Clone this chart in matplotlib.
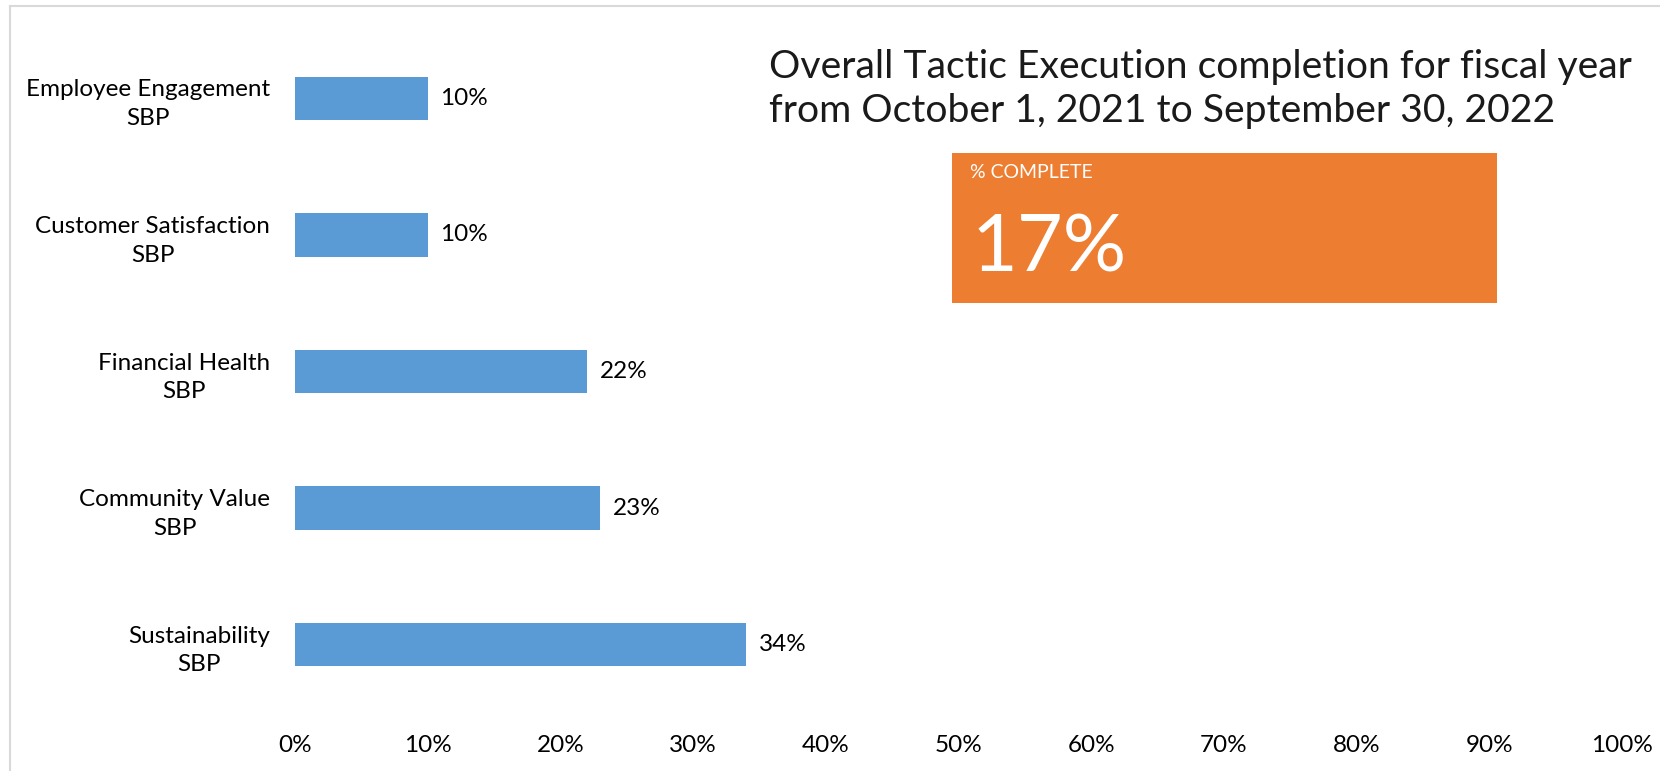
import matplotlib
matplotlib.use('Agg')
import matplotlib.pyplot as plt
from matplotlib.lines import Line2D
from matplotlib.patches import Rectangle

plt.rcParams['font.family'] = ['Lato', 'DejaVu Sans']

# Strategic business plan areas, bottom to top
categories = ['Sustainability\nSBP', 'Community Value\nSBP', 'Financial Health\nSBP',
              'Customer Satisfaction\nSBP', 'Employee Engagement\nSBP']
completion = [34, 23, 22, 10, 10]
overall_complete = 17
x_ticks = [0, 10, 20, 30, 40, 50, 60, 70, 80, 90, 100]

BLUE = '#5B9BD5'
ORANGE = '#ED7D31'

fig = plt.figure(figsize=(16.6, 7.71), dpi=100)
fig.patch.set_facecolor('white')

ax = fig.add_axes([295 / 1660, 1 - 713 / 771, 1327 / 1660, 683 / 771])
ax.barh(range(len(categories)), completion, height=0.318, color=BLUE)
ax.set_xlim(0, 100)
ax.set_ylim(-0.5, len(categories) - 0.5)
ax.set_yticks(range(len(categories)))
ax.set_yticklabels(categories, fontsize=17.5, multialignment='center', linespacing=1.45)
ax.set_xticks(x_ticks)
ax.set_xticklabels([f'{t}%' for t in x_ticks], fontsize=17.5)
ax.tick_params(axis='both', length=0)
ax.tick_params(axis='y', pad=18)
ax.tick_params(axis='x', pad=16)
for s in ax.spines.values():
    s.set_visible(False)

# value labels at the end of each bar
for i, v in enumerate(completion):
    ax.annotate(f'{v}%', (v, i), xytext=(9, 0), textcoords='offset points',
                va='center', ha='left', fontsize=17.5)

# title block on the upper right
fig.text(769 / 1660, 1 - 89 / 771,
         'Overall Tactic Execution completion for fiscal year\nfrom October 1, 2021 to September 30, 2022',
         fontsize=28.2, va='center', ha='left', linespacing=1.25, color='#1a1a1a')

# orange KPI card
card = Rectangle((952 / 1660, 1 - 303 / 771), 545 / 1660, 150 / 771,
                 transform=fig.transFigure, facecolor=ORANGE, edgecolor='none')
fig.patches.append(card)
fig.text(970 / 1660, 1 - 172 / 771, '% COMPLETE', fontsize=14, color='white',
         va='center', ha='left')
fig.text(972 / 1660, 1 - 249 / 771, f'{overall_complete}%', fontsize=57, color='white',
         va='center', ha='left')

# light frame on the top and left edges
fig.add_artist(Line2D([10 / 1660, 10 / 1660], [0, 1 - 6 / 771], transform=fig.transFigure,
                      color='#d9d9d9', linewidth=1.5))
fig.add_artist(Line2D([10 / 1660, 1], [1 - 6 / 771, 1 - 6 / 771], transform=fig.transFigure,
                      color='#d9d9d9', linewidth=1.5))

fig.savefig('out.png', dpi=100)
